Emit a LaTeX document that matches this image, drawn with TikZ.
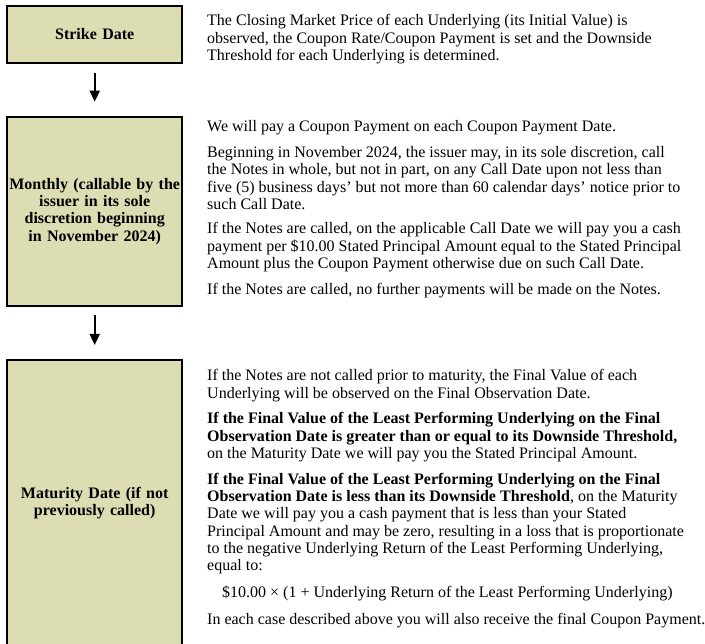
\documentclass[tikz,border=0pt]{standalone}
\usepackage{fontspec}
\setmainfont{Liberation Serif}
\usetikzlibrary{arrows.meta}
\definecolor{boxfill}{RGB}{221,221,179}
\tikzset{
  stagebox/.style={draw=black, line width=2pt, fill=boxfill, align=center,
    font=\fontsize{16}{17.3}\selectfont\bfseries, text width=172pt, inner sep=0pt},
  para/.style={anchor=base west, align=left, inner sep=0pt,
    font=\fontsize{16}{17.2}\selectfont},
  flow/.style={-{Triangle[width=10pt,length=11pt]}, line width=1.6pt},
}
\begin{document}
\begin{tikzpicture}[x=1pt,y=-1pt]
\useasboundingbox (0,0) rectangle (705,644);
% boxes
\node[stagebox, minimum width=175.3pt, minimum height=57.3pt] (strike) at (94.7,34.35) {Strike Date};
\node[stagebox, minimum width=175.3pt, minimum height=189pt] (monthly) at (94.7,211.5) {Monthly (callable by the\\ issuer in its sole\\ discretion beginning\\ in November 2024)};
\node[stagebox, minimum width=175.3pt, minimum height=286pt] (maturity) at (94.7,503.3) {Maturity Date (if not\\ previously called)};
% arrows
\draw[flow, shorten <=8.7pt, shorten >=14.3pt] (strike.south) -- (monthly.north);
\draw[flow, shorten <=8pt, shorten >=14.3pt] (monthly.south) -- (maturity.north);
% texts (anchored at the baseline of each paragraph's last line)
\node[para] (s1) at (207,60.4) {The Closing Market Price of each Underlying (its Initial Value) is\\ observed, the Coupon Rate/Coupon Payment is set and the Downside\\ Threshold for each Underlying is determined.};
\node[para] (m1) at (207,132) {We will pay a Coupon Payment on each Coupon Payment Date.};
\node[para] (m2) at (207,209.3) {Beginning in November 2024, the issuer may, in its sole discretion, call\\ the Notes in whole, but not in part, on any Call Date upon not less than\\ five (5) business days’ but not more than 60 calendar days’ notice prior to\\ such Call Date.};
\node[para] (m3) at (207,268.4) {If the Notes are called, on the applicable Call Date we will pay you a cash\\ payment per \$10.00 Stated Principal Amount equal to the Stated Principal\\ Amount plus the Coupon Payment otherwise due on such Call Date.};
\node[para] (m4) at (207,295) {If the Notes are called, no further payments will be made on the Notes.};
\node[para] (t1) at (207,398.2) {If the Notes are not called prior to maturity, the Final Value of each\\ Underlying will be observed on the Final Observation Date.};
\node[para] (t2) at (207,458.4) {\textbf{If the Final Value of the Least Performing Underlying on the Final}\\ \textbf{Observation Date is greater than or equal to its Downside Threshold,}\\ on the Maturity Date we will pay you the Stated Principal Amount.};
\node[para] (t3) at (207,570.5) {\textbf{If the Final Value of the Least Performing Underlying on the Final}\\ \textbf{Observation Date is less than its Downside Threshold}, on the Maturity\\ Date we will pay you a cash payment that is less than your Stated\\ Principal Amount and may be zero, resulting in a loss that is proportionate\\ to the negative Underlying Return of the Least Performing Underlying,\\ equal to:};
\node[para] (t4) at (222,597) {\$10.00 × (1 + Underlying Return of the Least Performing Underlying)};
\node[para] (t5) at (207,624) {In each case described above you will also receive the final Coupon Payment.};
\end{tikzpicture}
\end{document}
